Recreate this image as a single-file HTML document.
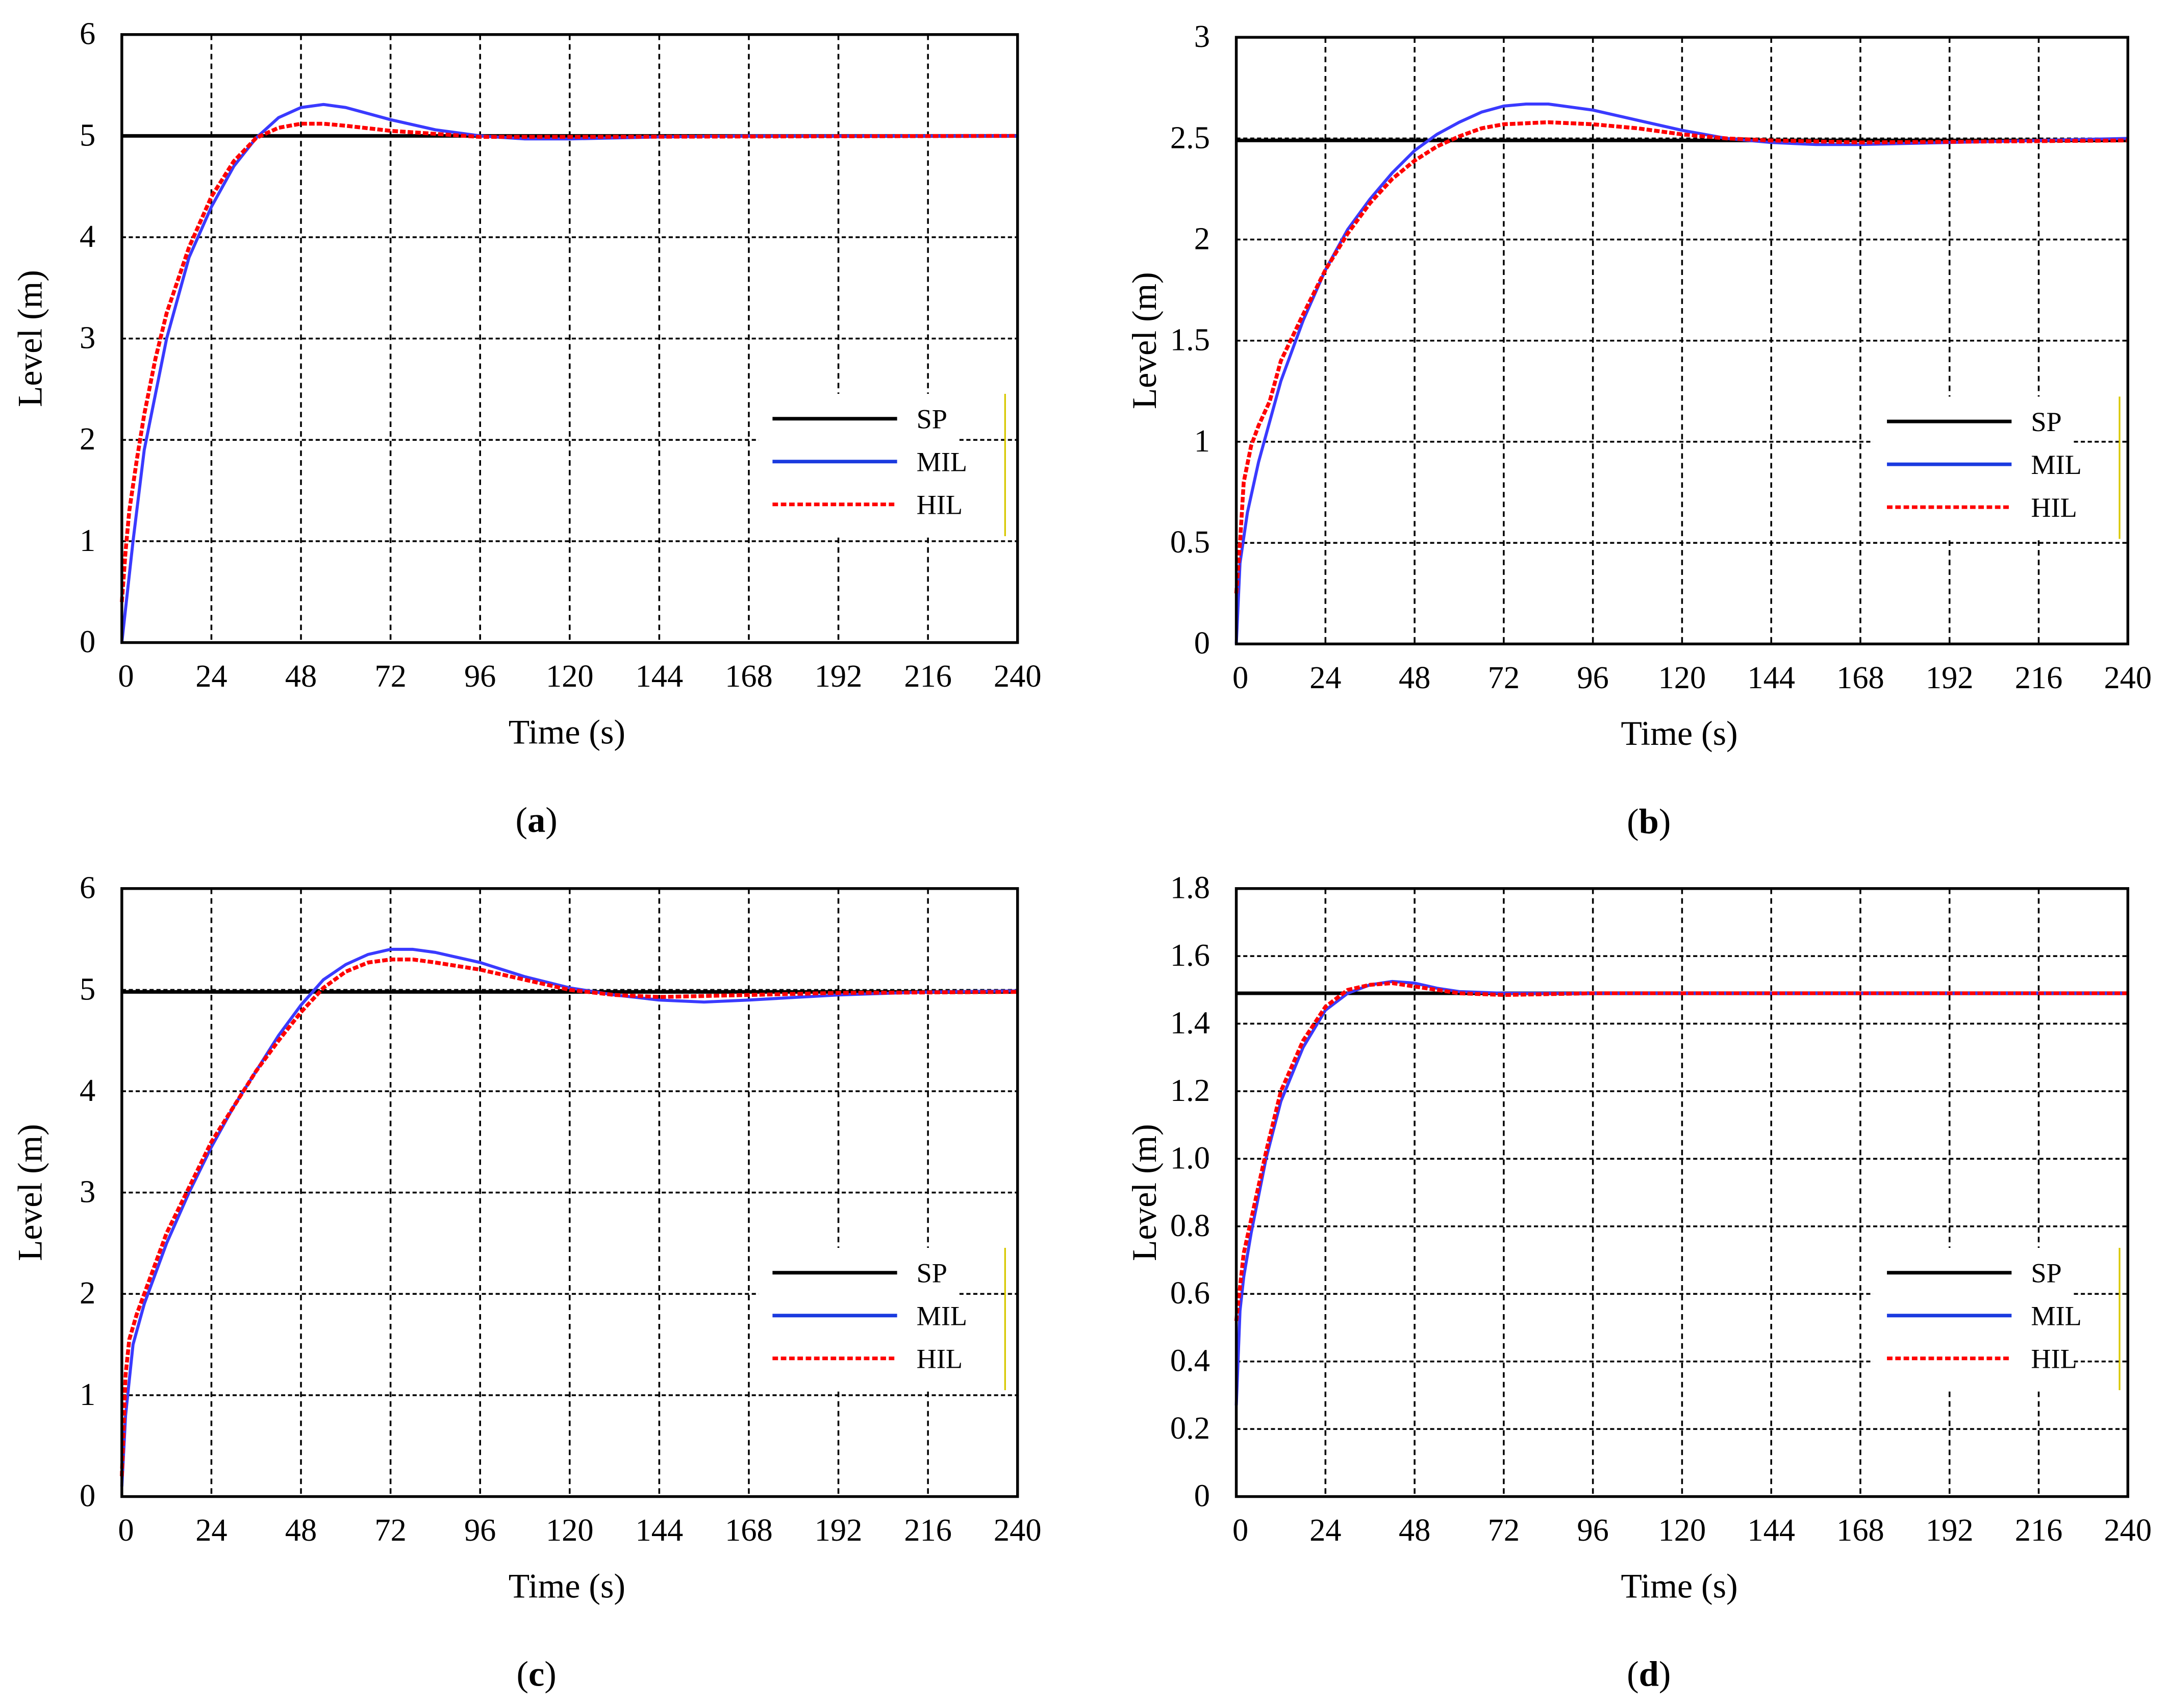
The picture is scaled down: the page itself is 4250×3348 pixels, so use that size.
<!DOCTYPE html>
<html><head><meta charset="utf-8"><style>
html,body{margin:0;padding:0;background:#fff;}
svg{display:block;}
text{font-family:"Liberation Serif",serif;fill:#000;}
</style></head><body>
<svg id="fig" width="4250" height="3348" viewBox="0 0 1566 1236" preserveAspectRatio="none" xmlns="http://www.w3.org/2000/svg"></svg>
<script>
// ---- data ----
const xTicks=[0,24,48,72,96,120,144,168,192,216,240];
const aYTicks=[0,1,2,3,4,5,6];
const bYTicks=[0,0.5,1,1.5,2,2.5,3];
const cYTicks=[0,1,2,3,4,5,6];
const dYTicks=[0,0.2,0.4,0.6,0.8,1.0,1.2,1.4,1.6,1.8];
const bYLabels=["0","0.5","1","1.5","2","2.5","3"];
const dYLabels=["0","0.2","0.4","0.6","0.8","1.0","1.2","1.4","1.6","1.8"];
const aSP=5, bSP=2.49, cSP=4.98, dSP=1.49;
const aMilT=[0,3,6,12,18,24,30,36,42,48,54,60,66,72,84,96,108,120,144,168,240];
const aMilV=[0,1,1.9,3.0,3.8,4.3,4.7,4.98,5.18,5.28,5.31,5.28,5.22,5.16,5.06,5.0,4.97,4.97,4.99,5.0,5.0];
const aHilT=[0,1,2,4,6,9,12,18,24,30,36,42,48,54,60,72,84,96,120,240];
const aHilV=[0.4,0.9,1.3,1.8,2.25,2.8,3.25,3.9,4.4,4.75,4.98,5.08,5.12,5.12,5.1,5.05,5.02,4.99,4.99,5.0];
const bMilT=[0,1,3,6,12,18,24,30,36,42,48,54,60,66,72,78,84,96,108,120,132,144,156,168,192,216,240];
const bMilV=[0,0.4,0.65,0.9,1.3,1.6,1.85,2.05,2.2,2.33,2.44,2.52,2.58,2.63,2.66,2.67,2.67,2.64,2.59,2.54,2.5,2.48,2.47,2.47,2.48,2.49,2.5];
const bHilT=[0,1,2,4,6,9,12,18,24,30,36,42,48,54,60,66,72,84,96,108,120,132,144,168,240];
const bHilV=[0.25,0.5,0.8,0.98,1.08,1.2,1.4,1.63,1.85,2.03,2.18,2.3,2.39,2.46,2.51,2.55,2.57,2.58,2.57,2.55,2.52,2.5,2.49,2.48,2.49];
const cMilT=[0,1,3,6,12,18,24,30,36,42,48,54,60,66,72,78,84,96,108,120,132,144,156,168,192,216,240];
const cMilV=[0.1,0.8,1.5,1.9,2.5,3.0,3.45,3.85,4.2,4.55,4.85,5.1,5.25,5.35,5.4,5.4,5.37,5.27,5.13,5.02,4.95,4.9,4.88,4.9,4.95,4.98,4.99];
const cHilT=[0,1,2,4,8,12,18,24,30,36,42,48,54,60,66,72,78,84,96,108,120,132,144,168,192,240];
const cHilV=[0.2,1.2,1.55,1.8,2.2,2.6,3.05,3.5,3.85,4.2,4.5,4.78,5.02,5.18,5.27,5.3,5.3,5.27,5.2,5.1,5.0,4.95,4.93,4.95,4.97,4.98];
const dMilT=[0,1,2,4,8,12,18,24,30,36,42,48,54,60,72,240];
const dMilV=[0.27,0.55,0.65,0.78,1.0,1.17,1.33,1.44,1.49,1.515,1.525,1.52,1.505,1.495,1.49,1.49];
const dHilT=[0,1,2,4,8,12,18,24,30,36,42,48,54,60,72,96,240];
const dHilV=[0.52,0.62,0.72,0.82,1.02,1.2,1.35,1.45,1.5,1.515,1.52,1.51,1.5,1.49,1.485,1.49,1.49];

const NS="http://www.w3.org/2000/svg";
const svg=document.getElementById('fig');
function mk(tag,attrs,parent){const e=document.createElementNS(NS,tag);for(const k in attrs)e.setAttribute(k,attrs[k]);(parent||svg).appendChild(e);return e;}

function panel(id,box,yTicks,yLabels,yMax,sp,milT,milV,hilT,hilV,letter){
  const g=mk('g',{});
  
  
  const [x0,y0,x1,y1]=box;
  const sx=t=>x0+(t/240)*(x1-x0);
  const sy=v=>y1-(v/yMax)*(y1-y0);
  xTicks.forEach(t=>{if(t>0&&t<240){const l=mk('line',{x1:sx(t),x2:sx(t),y1:y0,y2:y1,stroke:'#000','stroke-width':1.3,'stroke-dasharray':'4 3'},g);
    }});
  yTicks.forEach(v=>{if(v>0&&v<yMax-1e-9){const l=mk('line',{x1:x0,x2:x1,y1:sy(v),y2:sy(v),stroke:'#000','stroke-width':1.3,'stroke-dasharray':'3 2'},g);
    }});
  const lx=x0+470;
  const lb=mk('rect',{x:lx-10,y:y0+260,width:145,height:103,fill:'#fff'},g);
  
  const path=(T,V)=>T.map((t,i)=>(i?'L':'M')+sx(t).toFixed(2)+','+sy(V[i]).toFixed(2)).join('');
  const spl=mk('line',{x1:x0,x2:x1,y1:sy(sp),y2:sy(sp),stroke:'#000','stroke-width':2.6},g);
  
  const mil=mk('path',{d:path(milT,milV),fill:'none',stroke:'#3a3aff','stroke-width':2.2,'stroke-linejoin':'round'},g);
  
  const hil=mk('path',{d:path(hilT,hilV),fill:'none',stroke:'#ff0000','stroke-width':2.8,'stroke-dasharray':'4 1.5'},g);
  
  const fr=mk('rect',{x:x0,y:y0,width:x1-x0,height:y1-y0,fill:'none',stroke:'#000','stroke-width':2},g);
  
  const items=[['SP','#000',null],['MIL','#1a3adf',null],['HIL','#ff0000','4 2']];
  items.forEach((it,i)=>{const yy=y0+278+i*31;
    const l=mk('line',{x1:lx,x2:lx+90,y1:yy,y2:yy,stroke:it[1],'stroke-width':2.6},g);
    if(it[2])l.setAttribute('stroke-dasharray',it[2]);
    
    const tx=mk('text',{x:lx+104,y:yy+7,'font-size':20},g);tx.textContent=it[0];
    });
  const yl=mk('line',{x1:lx+168,x2:lx+168,y1:y0+260,y2:y0+363,stroke:'#d8c800','stroke-width':1.2},g);
  
  xTicks.forEach(t=>{const tx=mk('text',{x:sx(t)+(t===0?3:0),y:y1+32,'font-size':23,'text-anchor':'middle'},g);tx.textContent=t;
    });
  yTicks.forEach((v,i)=>{const tx=mk('text',{x:x0-19,y:sy(v)+7,'font-size':23,'text-anchor':'end'},g);tx.textContent=yLabels[i];
    });
  const xt=mk('text',{x:(x0+x1)/2-2,y:y1+73,'font-size':25,'text-anchor':'middle'},g);xt.textContent='Time (s)';
  
  const cy=(y0+y1)/2;
  const yt=mk('text',{x:x0-58,y:cy,'font-size':25,'text-anchor':'middle',transform:`rotate(-90 ${x0-58} ${cy})`},g);yt.textContent='Level (m)';
  
  const cap=mk('text',{x:(x0+x1)/2-24,y:y1+137,'font-size':26,'text-anchor':'middle'},g);
  cap.innerHTML='(<tspan font-weight="bold">'+letter+'</tspan>)';
  
}
const sLab=a=>a.map(String);
panel('a',[88,25,735,465],aYTicks,sLab(aYTicks),6,aSP,aMilT,aMilV,aHilT,aHilV,'a');
panel('b',[893,27,1537,466],bYTicks,bYLabels,3,bSP,bMilT,bMilV,bHilT,bHilV,'b');
panel('c',[88,643,735,1083],cYTicks,sLab(cYTicks),6,cSP,cMilT,cMilV,cHilT,cHilV,'c');
panel('d',[893,643,1537,1083],dYTicks,dYLabels,1.8,dSP,dMilT,dMilV,dHilT,dHilV,'d');
</script>
</body></html>
